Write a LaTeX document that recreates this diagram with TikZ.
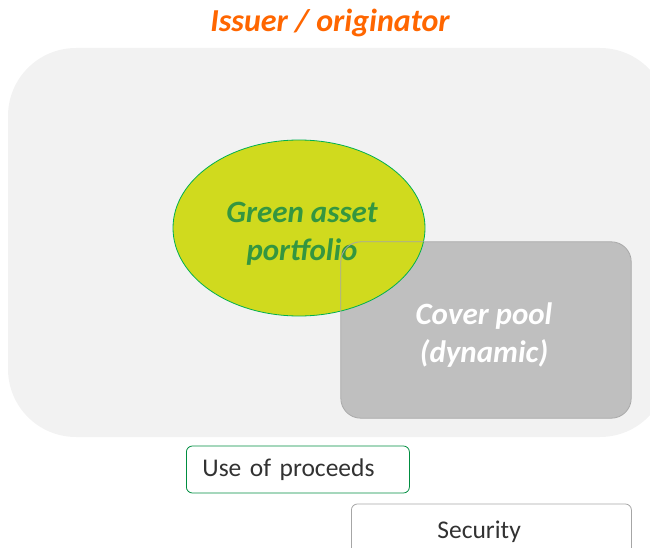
\documentclass[tikz,border=0pt]{standalone}
\usepackage{fontspec}
\setmainfont{Carlito}
\usetikzlibrary{shapes.geometric, positioning}

\definecolor{issuerorange}{RGB}{255,102,0}
\definecolor{issuerback}{RGB}{242,242,242}
\definecolor{assetfill}{RGB}{208,218,30}
\definecolor{assetline}{RGB}{0,176,80}
\definecolor{assettext}{RGB}{52,150,64}
\definecolor{poolfill}{RGB}{191,191,191}
\definecolor{poolline}{RGB}{166,166,166}
\definecolor{tagtext}{RGB}{50,50,50}

\begin{document}
\begin{tikzpicture}[
    x=1pt, y=-1pt,
    issuer/.style={rectangle, fill=issuerback, rounded corners=68pt, minimum width=660pt, minimum height=389pt},
    asset/.style={ellipse, fill=assetfill, draw=assetline, line width=0.8pt, minimum width=252pt, minimum height=176pt},
    pool/.style={rectangle, fill=poolfill, rounded corners=20pt, minimum width=290pt, minimum height=176pt},
    rim/.style={draw=poolline, line width=0.8pt, rounded corners=20pt},
    bigtext/.style={align=center, font=\fontsize{31}{38}\selectfont\bfseries\itshape},
    tag/.style={rectangle, draw, line width=0.8pt, rounded corners=6pt, align=left, text=tagtext, font=\fontsize{25.5}{30}\selectfont}
]
    \clip (0,0) rectangle (650,548);

    % issuer area and its heading
    \node[issuer] (area) at (338,242.5) {};
    \node[text=issuerorange, font=\fontsize{32}{38}\selectfont\bfseries\itshape] (head) at (330,23) {Issuer / originator};

    % cover pool sits under the asset portfolio, its outline on top
    \node[pool] (pool) at (486,330) {};
    \node[bigtext, text=white] (pooltext) at (484,335) {Cover pool\\(dynamic)};
    \node[asset] (green) at (299,228) {};
    \node[bigtext, text=assettext] (greentext) at (302,234) {Green asset\\portfolio};
    \draw[rim] (pool.south west) rectangle (pool.north east);

    % tags below the issuer area
    \node[tag, draw=assetline!80!black, text width=191pt, inner xsep=16pt, minimum height=47pt, anchor=west] (proceeds) at (186,469.5) {Use of proceeds};
    \node[tag, draw=poolline, text width=108pt, inner xsep=86pt, minimum height=56pt, anchor=west] (security) at (351,532) {Security};
\end{tikzpicture}
\end{document}
